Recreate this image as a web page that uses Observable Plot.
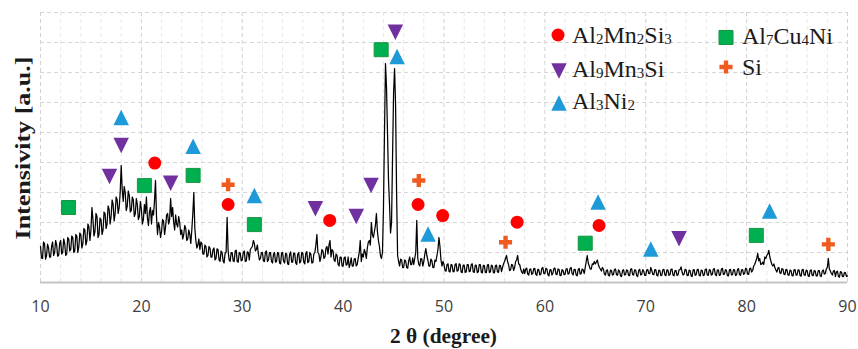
<!DOCTYPE html>
<html><head><meta charset="utf-8">
<script src="https://cdn.jsdelivr.net/npm/d3@7"></script>
<script src="https://cdn.jsdelivr.net/npm/@observablehq/plot@0.6"></script>
<style>
html,body{margin:0;padding:0;background:#fff;}
#chart svg{display:block}
</style>
</head><body><div id="chart"></div>
<script>
const thetaStart = 10, thetaStep = 0.1;
const scanIntensity = [
1.2,0.82,0.8,1.35,1.3,0.78,0.9,1.28,1.15,0.85,
0.85,1.2,1.35,0.9,1.0,1.4,1.25,0.88,0.9,1.3,
1.4,0.95,1.0,1.45,1.3,0.9,0.95,1.5,1.45,1.05,
1.1,1.55,1.5,1.0,1.05,1.6,1.55,1.0,1.2,1.65,
1.6,1.15,1.3,1.8,1.75,1.25,1.4,1.95,1.85,1.4,
1.75,2.5,2.1,1.55,1.7,2.3,2.2,1.5,1.6,2.15,
2.1,1.6,1.75,2.35,2.3,1.8,1.95,2.55,2.45,1.95,
2.2,2.75,2.6,2.05,2.3,2.85,2.75,2.3,2.5,3.0,
3.9,3.1,2.7,3.2,3.0,2.4,2.55,3.05,2.9,2.35,
2.4,2.85,2.75,2.2,2.3,2.8,2.6,2.1,2.2,2.7,
2.45,1.95,2.1,2.6,2.3,2.85,2.15,1.9,2.35,2.5,
1.95,2.4,2.25,2.7,3.4,2.2,1.6,2.0,1.85,1.5,
1.7,2.1,2.05,1.6,1.85,2.25,2.3,1.95,2.1,2.8,
2.2,2.5,2.0,1.75,2.25,1.95,1.85,2.2,2.0,1.6,
1.75,1.45,1.6,1.9,1.8,1.4,1.45,1.75,1.6,1.3,
1.75,2.3,3.0,1.8,1.4,1.15,1.25,1.45,1.1,1.35,
1.3,0.95,0.95,1.25,1.2,0.85,0.9,1.2,1.15,0.85,
0.85,1.1,1.15,0.75,0.8,1.12,1.1,0.75,0.7,1.05,
1.0,0.72,0.65,0.98,1.0,2.17,1.05,0.75,0.7,1.0,
1.0,0.72,0.7,1.05,1.08,0.7,0.68,1.0,0.98,0.72,
0.75,1.0,1.05,0.7,0.72,1.02,1.0,0.75,1.1,1.15,
1.2,1.4,1.3,1.05,1.1,1.25,0.95,0.75,0.8,1.0,
1.0,0.72,0.7,1.02,1.05,0.7,0.75,1.0,1.0,0.7,
0.65,0.95,1.0,0.68,0.7,1.0,0.98,0.65,0.62,0.98,
1.0,0.7,0.65,0.97,0.95,0.62,0.6,0.95,1.02,0.68,
0.68,0.98,0.97,0.65,0.6,0.95,1.0,0.65,0.7,1.0,
0.98,0.68,0.62,0.98,1.03,0.66,0.7,1.0,0.95,0.65,
0.66,0.95,1.0,1.25,1.6,1.0,0.95,0.7,0.85,1.1,
1.05,0.8,0.85,1.15,1.2,0.95,1.25,1.4,0.85,1.1,
1.05,0.75,0.7,0.95,0.9,0.6,0.55,0.85,0.85,0.55,
0.55,0.82,0.85,0.58,0.6,0.85,0.5,0.62,0.82,0.55,
0.55,0.78,0.8,0.55,0.6,0.82,1.0,1.4,0.7,0.95,
0.85,1.1,1.0,0.8,1.15,1.35,1.4,1.25,2.0,1.6,
1.5,1.7,1.9,2.3,1.7,1.4,1.2,0.9,0.8,1.0,
2.5,5.0,7.3,6.5,5.0,3.4,2.6,1.65,2.0,4.2,
6.3,7.13,5.9,3.0,0.9,0.7,0.55,0.78,0.75,0.5,
0.5,0.75,0.72,0.5,0.48,0.72,0.85,0.6,0.6,0.82,
0.6,0.8,1.0,2.07,0.8,0.6,0.55,0.8,0.78,0.55,
0.7,0.95,1.13,0.9,0.75,0.55,0.55,0.78,0.72,0.5,
0.5,0.75,0.7,0.9,1.1,1.5,1.2,0.75,0.55,0.7,
0.6,0.4,0.38,0.6,0.62,0.37,0.35,0.6,0.58,0.36,
0.36,0.6,0.63,0.38,0.4,0.62,0.6,0.35,0.33,0.58,
0.58,0.34,0.35,0.6,0.6,0.36,0.38,0.6,0.62,0.35,
0.34,0.58,0.57,0.33,0.36,0.6,0.6,0.34,0.32,0.57,
0.56,0.34,0.33,0.58,0.6,0.34,0.35,0.58,0.55,0.33,
0.32,0.56,0.58,0.35,0.34,0.57,0.56,0.36,0.5,0.62,
0.7,0.8,0.9,0.7,0.6,0.4,0.42,0.6,0.58,0.4,
0.5,0.7,0.75,0.9,0.62,0.6,0.45,0.35,0.3,0.45,
0.3,0.45,0.48,0.28,0.25,0.44,0.45,0.27,0.3,0.46,
0.47,0.27,0.24,0.44,0.42,0.25,0.28,0.47,0.5,0.3,
0.3,0.47,0.45,0.26,0.22,0.42,0.43,0.25,0.32,0.47,
0.48,0.28,0.26,0.45,0.44,0.24,0.23,0.43,0.4,0.26,
0.27,0.45,0.46,0.28,0.3,0.47,0.5,0.3,0.25,0.44,
0.44,0.25,0.22,0.43,0.47,0.28,0.3,0.45,0.42,0.3,
0.5,0.7,0.9,0.65,0.55,0.45,0.45,0.62,0.6,0.7,
0.62,0.68,0.75,0.6,0.5,0.45,0.38,0.5,0.45,0.28,
0.25,0.4,0.42,0.24,0.22,0.41,0.4,0.25,0.27,0.44,
0.45,0.26,0.24,0.42,0.38,0.22,0.2,0.4,0.43,0.25,
0.26,0.42,0.4,0.24,0.23,0.44,0.46,0.26,0.25,0.42,
0.41,0.23,0.2,0.4,0.44,0.25,0.27,0.43,0.38,0.24,
0.24,0.42,0.43,0.3,0.3,0.5,0.4,0.27,0.26,0.43,
0.42,0.24,0.22,0.41,0.4,0.23,0.25,0.43,0.44,0.25,
0.23,0.42,0.41,0.24,0.26,0.44,0.45,0.25,0.22,0.4,
0.4,0.24,0.25,0.42,0.43,0.52,0.35,0.25,0.28,0.44,
0.42,0.24,0.23,0.41,0.4,0.22,0.2,0.42,0.43,0.24,
0.26,0.43,0.44,0.24,0.22,0.41,0.4,0.23,0.25,0.44,
0.45,0.25,0.24,0.43,0.41,0.25,0.27,0.45,0.46,0.26,
0.23,0.41,0.42,0.24,0.25,0.45,0.47,0.27,0.28,0.43,
0.4,0.23,0.22,0.42,0.44,0.25,0.26,0.43,0.42,0.24,
0.25,0.44,0.46,0.26,0.24,0.42,0.43,0.27,0.3,0.47,
0.45,0.28,0.27,0.46,0.48,0.35,0.4,0.55,0.6,0.7,
0.8,0.97,0.72,0.8,0.6,0.62,0.68,0.6,0.85,0.8,
0.9,0.95,1.07,0.85,0.72,0.6,0.55,0.62,0.5,0.42,
0.35,0.48,0.5,0.32,0.3,0.46,0.45,0.28,0.26,0.44,
0.42,0.25,0.24,0.41,0.4,0.23,0.22,0.42,0.43,0.25,
0.25,0.42,0.41,0.23,0.21,0.42,0.44,0.25,0.24,0.41,
0.4,0.22,0.2,0.4,0.42,0.24,0.23,0.4,0.38,0.22,
0.22,0.4,0.4,0.22,0.2,0.38,0.42,0.28,0.3,0.45,
0.5,0.8,0.45,0.38,0.3,0.25,0.38,0.4,0.2,0.35,
0.38,0.2,0.18,0.36,0.35,0.2,0.2,0.34,0.32,0.2,
0.22
];

const xTicks = [10,20,30,40,50,60,70,80,90];
const xMinorGrid = [12,14,16,18,22,24,26,28,32,34,36,38,42,44,46,48,52,54,56,58,62,64,66,68,72,74,76,78,82,84,86,88];
const yGrid = [1,2,3,4,5,6,7,8,9];

// phase markers [theta, height]
const phaseNames = ["Al2Mn2Si3","Al9Mn3Si","Al3Ni2","Al7Cu4Ni","Si"];
const phaseColors = ["#ff0000","#7030a0","#1f9ad8","#00b050","#ef5a1e"];
const markAl2Mn2Si3 = [[21.33,3.98],[28.6,2.6],[38.67,2.07],[47.43,2.6],[49.87,2.23],[57.25,2.01],[65.37,1.9]];
const markAl9Mn3Si = [[16.84,3.53],[18.0,4.57],[22.9,3.31],[37.25,2.46],[41.3,2.2],[42.77,3.23],[45.18,8.34],[73.3,1.46]];
const markAl3Ni2 = [[18.0,5.5],[25.13,4.54],[31.2,2.9],[45.35,7.53],[48.42,1.62],[65.27,2.68],[70.5,1.12],[82.28,2.38]];
const markAl7Cu4Ni = [[12.78,2.5],[20.3,3.23],[25.13,3.57],[31.2,1.93],[43.77,7.76],[64.0,1.31],[80.96,1.57]];
const markSi = [[28.6,3.26],[47.5,3.4],[56.1,1.34],[88.1,1.27]];

const scan = scanIntensity.map((v, i) => ({theta: +(thetaStart + i * thetaStep).toFixed(2), I: v}));

const triUp = {draw(ctx, size){ const s = Math.sqrt(size); ctx.moveTo(0,-s/2); ctx.lineTo(s/2,s/2); ctx.lineTo(-s/2,s/2); ctx.closePath(); }};
const triDown = {draw(ctx, size){ const s = Math.sqrt(size); ctx.moveTo(0,s/2); ctx.lineTo(s/2,-s/2); ctx.lineTo(-s/2,-s/2); ctx.closePath(); }};
const SP = Math.sqrt(Math.PI);
const symbolDefs = [
  {type: d3.symbolCircle, r: 6.5},
  {type: triDown, r: 15.5 / SP},
  {type: triUp, r: 15.5 / SP},
  {type: d3.symbolSquare, r: 14 / SP},
  {type: d3.symbolCross, r: 5.5}
];
const markSets = [markAl2Mn2Si3, markAl9Mn3Si, markAl3Ni2, markAl7Cu4Ni, markSi];

const dotMarks = markSets.map((set, k) => Plot.dot(set, {
  x: d => d[0], y: d => d[1], symbol: symbolDefs[k].type, r: symbolDefs[k].r,
  fill: phaseColors[k], stroke: k === 3 ? "#16963f" : "none", strokeWidth: k === 3 ? 1 : 0
}));

const chart = Plot.plot({
  width: 858, height: 349,
  marginLeft: 40, marginRight: 11, marginTop: 12, marginBottom: 67,
  x: {domain: [10, 90], ticks: xTicks, tickSize: 0, tickPadding: 18, label: null},
  y: {domain: [0, 9], axis: null},
  style: {background: "#fff", fontFamily: "'Open Sans', sans-serif", fontSize: "16px", color: "#404040"},
  marks: [
    Plot.ruleX(xMinorGrid, {stroke: "#e8e8e8", strokeDasharray: "4,3"}),
    Plot.ruleX(xTicks, {stroke: "#d2d2d2", strokeDasharray: "4,3"}),
    Plot.ruleY(yGrid, {stroke: "#d6d6d6", strokeDasharray: "4,3"}),
    Plot.ruleY([0], {stroke: "#c4c4c4", strokeWidth: 2}),
    Plot.line(scan, {x: "theta", y: "I", stroke: "#000", strokeWidth: 1.25}),
    ...dotMarks
  ]
});
document.getElementById("chart").appendChild(chart);

const svg = d3.select(chart);
const serif = "'Liberation Serif', 'Times New Roman', serif";
const xs = chart.scale("x"), ys = chart.scale("y");

// axis titles
svg.append("text")
  .attr("transform", `translate(29.5,${(ys.apply(0) + ys.apply(9)) / 2 + 1}) rotate(-90)`)
  .attr("text-anchor", "middle").attr("font-family", serif).attr("font-weight", "bold")
  .attr("font-size", 21).attr("fill", "#1a1a1a")
  .attr("textLength", 183).attr("lengthAdjust", "spacingAndGlyphs")
  .text("Intensivity [a.u.]");
svg.append("text")
  .attr("x", xs.apply(50)).attr("y", 343)
  .attr("text-anchor", "middle").attr("font-family", serif).attr("font-weight", "bold")
  .attr("font-size", 20).attr("fill", "#1a1a1a")
  .attr("textLength", 107).attr("lengthAdjust", "spacingAndGlyphs")
  .text("2 θ (degree)");

// legend
const legendPos = [
  {sx: 558, sy: 35, tx: 572, ty: 44},
  {sx: 559, sy: 71, tx: 572, ty: 77.5},
  {sx: 559, sy: 103, tx: 572, ty: 110},
  {sx: 726, sy: 37.5, tx: 742, ty: 45},
  {sx: 726, sy: 67, tx: 742, ty: 75.5}
];
const lg = svg.append("g").attr("text-anchor", "start");
phaseNames.forEach((name, k) => {
  const p = legendPos[k], def = symbolDefs[k];
  lg.append("path")
    .attr("transform", `translate(${p.sx},${p.sy})`)
    .attr("d", d3.symbol(def.type, def.r * def.r * Math.PI)())
    .attr("fill", phaseColors[k])
    .attr("stroke", k === 3 ? "#16963f" : "none");
  const t = lg.append("text").attr("x", p.tx).attr("y", p.ty).attr("text-anchor", "start")
    .attr("font-family", serif).attr("font-size", 24).attr("fill", "#1a1a1a");
  name.split(/(\d+)/).filter(s => s).forEach(part => {
    if (/^\d+$/.test(part)) t.append("tspan").attr("font-size", 15).attr("dy", 1).text(part);
    else t.append("tspan").attr("dy", t.node().childNodes.length ? -1 : 0).text(part);
  });
});
</script>
</body></html>
